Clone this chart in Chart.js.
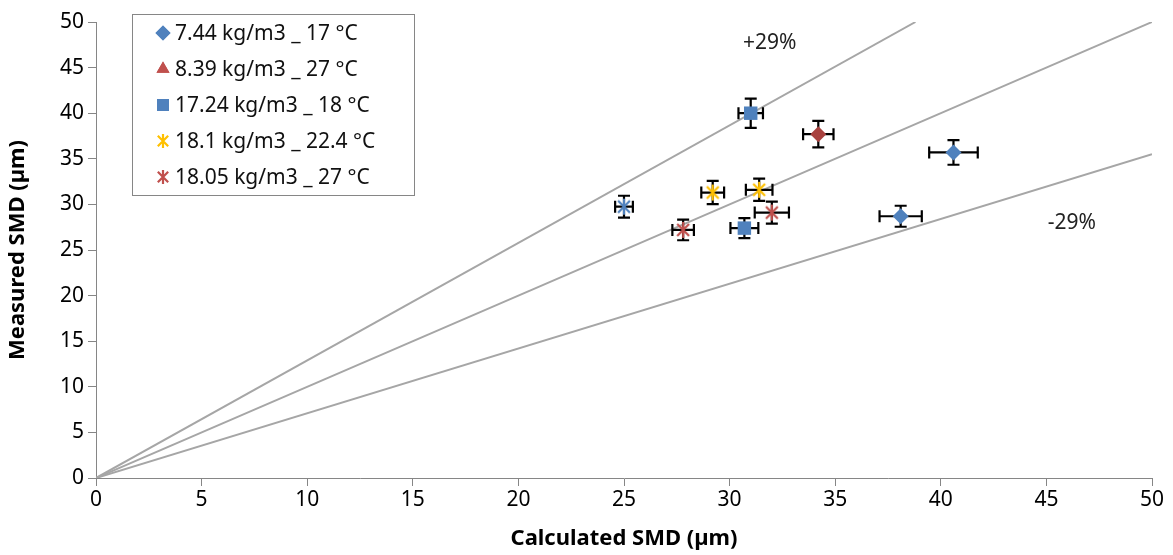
<!DOCTYPE html>
<html>
<head>
<meta charset="utf-8">
<script src="https://cdn.jsdelivr.net/npm/chart.js@4.4.1/dist/chart.umd.min.js"></script>
<style>
  html, body { margin: 0; padding: 0; background: #fff; }
  #wrap { width: 1173px; height: 555px; }
</style>
</head>
<body>
<div id="wrap"><canvas id="smdChart" width="1173" height="555"></canvas></div>
<script>
// Series labels (legend)
const seriesLabels = [
    '7.44 kg/m3 _ 17 °C',
    '8.39 kg/m3 _ 27 °C',
    '17.24 kg/m3 _ 18 °C',
    '18.1 kg/m3 _ 22.4 °C',
    '18.05 kg/m3 _ 27 °C'
];

// Calculated (x) / measured (y) SMD in µm, with error half-widths
const calcA = [40.6, 38.1], measA = [35.7, 28.7], xErrA = [1.15, 1.0], yErrA = [1.35, 1.15];
const calcB = [34.2], measB = [37.7], xErrB = [0.72], yErrB = [1.45];
const calcC = [31.0, 30.7], measC = [40.0, 27.4], xErrC = [0.58, 0.66], yErrC = [1.6, 1.1];
const calcD = [29.2, 31.4], measD = [31.3, 31.6], xErrD = [0.54, 0.63], yErrD = [1.28, 1.22];
const calcE = [27.8, 32.0], measE = [27.2, 29.1], xErrE = [0.51, 0.81], yErrE = [1.13, 1.2];
const calcF = [25.0], measF = [29.75], xErrF = [0.42], yErrF = [1.2];

// +29% / 1:1 / -29% reference lines, from origin to these end points
const lineEndX = [38.8, 50, 50];
const lineEndY = [50, 50, 35.5];
const lineLabels = ['+29%', '', '-29%'];
const lineLabelX = [31.9, 0, 46.2];
const lineLabelY = [47.7, 0, 28.0];

const axisTicks = [0, 5, 10, 15, 20, 25, 30, 35, 40, 45, 50];

const FONT = "'Noto Sans', 'Open Sans', sans-serif";

function asterisk(color, size) {
    const c = document.createElement('canvas');
    c.width = c.height = size;
    const g = c.getContext('2d');
    const m = size / 2, r = size / 2 - 1, d = r * 0.74;
    g.strokeStyle = color;
    g.lineWidth = 2.2;
    g.beginPath();
    g.moveTo(m, m - r); g.lineTo(m, m + r);
    g.moveTo(m - d, m - d); g.lineTo(m + d, m + d);
    g.moveTo(m + d, m - d); g.lineTo(m - d, m + d);
    g.stroke();
    return c;
}

function pts(xs, ys) {
    return xs.map((x, i) => ({ x: x, y: ys[i] }));
}

const BLUE = '#4F81BD', RED = '#C0504D', DARKRED = '#A8423F', YELLOW = '#FFC000';

const datasets = [
    { label: seriesLabels[0], data: pts(calcA, measA), xErr: xErrA, yErr: yErrA,
      pointStyle: 'rectRot', pointRadius: 8, backgroundColor: BLUE, borderColor: BLUE, borderWidth: 0,
      legendStyle: 'rectRot', legendColor: BLUE },
    { label: seriesLabels[1], data: pts(calcB, measB), xErr: xErrB, yErr: yErrB,
      pointStyle: 'rectRot', pointRadius: 8, backgroundColor: DARKRED, borderColor: DARKRED, borderWidth: 0,
      legendStyle: 'triangle', legendColor: RED },
    { label: seriesLabels[2], data: pts(calcC, measC), xErr: xErrC, yErr: yErrC,
      pointStyle: 'rect', pointRadius: 9.5, backgroundColor: BLUE, borderColor: BLUE, borderWidth: 0,
      legendStyle: 'rect', legendColor: BLUE },
    { label: seriesLabels[3], data: pts(calcD, measD), xErr: xErrD, yErr: yErrD,
      pointStyle: asterisk(YELLOW, 18), pointRadius: 9, backgroundColor: YELLOW, borderColor: YELLOW,
      legendStyle: asterisk(YELLOW, 16), legendColor: YELLOW },
    { label: seriesLabels[4], data: pts(calcE, measE), xErr: xErrE, yErr: yErrE,
      pointStyle: asterisk(RED, 18), pointRadius: 9, backgroundColor: RED, borderColor: RED,
      legendStyle: asterisk(RED, 16), legendColor: RED },
    { label: '', data: pts(calcF, measF), xErr: xErrF, yErr: yErrF,
      pointStyle: asterisk(BLUE, 18), pointRadius: 9, backgroundColor: BLUE, borderColor: BLUE }
];

lineEndX.forEach((ex, i) => {
    datasets.push({
        type: 'line', label: '', refLine: true,
        data: [{ x: 0, y: 0 }, { x: ex, y: lineEndY[i] }],
        borderColor: '#A6A6A6', borderWidth: 2, pointRadius: 0, fill: false, order: 10
    });
});

const errorBars = {
    id: 'errorBars',
    beforeDatasetDraw(chart, args) {
        const ds = chart.data.datasets[args.index];
        if (!ds.xErr) return;
        const xs = chart.scales.x, ys = chart.scales.y, ctx = chart.ctx;
        const cap = 6;
        ctx.save();
        ctx.strokeStyle = '#000';
        ctx.lineWidth = 2.2;
        ds.data.forEach((p, i) => {
            const px = xs.getPixelForValue(p.x), py = ys.getPixelForValue(p.y);
            const x0 = xs.getPixelForValue(p.x - ds.xErr[i]), x1 = xs.getPixelForValue(p.x + ds.xErr[i]);
            const y0 = ys.getPixelForValue(p.y - ds.yErr[i]), y1 = ys.getPixelForValue(p.y + ds.yErr[i]);
            ctx.beginPath();
            ctx.moveTo(x0, py); ctx.lineTo(x1, py);
            ctx.moveTo(x0, py - cap); ctx.lineTo(x0, py + cap);
            ctx.moveTo(x1, py - cap); ctx.lineTo(x1, py + cap);
            ctx.moveTo(px, y0); ctx.lineTo(px, y1);
            ctx.moveTo(px - cap, y0); ctx.lineTo(px + cap, y0);
            ctx.moveTo(px - cap, y1); ctx.lineTo(px + cap, y1);
            ctx.stroke();
        });
        ctx.restore();
    }
};

const lineText = {
    id: 'lineText',
    afterDatasetsDraw(chart) {
        const ctx = chart.ctx, xs = chart.scales.x, ys = chart.scales.y;
        ctx.save();
        ctx.font = '21px ' + FONT;
        ctx.fillStyle = '#222';
        ctx.textAlign = 'center';
        ctx.textBaseline = 'middle';
        lineLabels.forEach((t, i) => {
            if (!t) return;
            ctx.fillText(t, xs.getPixelForValue(lineLabelX[i]), ys.getPixelForValue(lineLabelY[i]));
        });
        ctx.restore();
    }
};

const boxLegend = {
    id: 'boxLegend',
    afterDraw(chart) {
        const ctx = chart.ctx;
        const bx = 132, by = 14, bw = 282, bh = 181;
        ctx.save();
        ctx.fillStyle = '#fff';
        ctx.fillRect(bx, by, bw, bh);
        ctx.strokeStyle = '#868686';
        ctx.lineWidth = 1;
        ctx.strokeRect(bx + 0.5, by + 0.5, bw, bh);
        ctx.font = '21px ' + FONT;
        ctx.textBaseline = 'middle';
        ctx.textAlign = 'left';
        let row = 0;
        chart.data.datasets.forEach(ds => {
            if (!ds.legendStyle) return;
            const cy = by + 19 + row * 36, cx = bx + 31;
            ctx.fillStyle = ds.legendColor;
            ctx.strokeStyle = ds.legendColor;
            const st = ds.legendStyle;
            if (typeof st !== 'string') {
                ctx.drawImage(st, cx - st.width / 2, cy - st.height / 2);
            } else {
                const r = st === 'rect' ? 8.5 : 7.5;
                Chart.helpers.drawPoint(ctx, { pointStyle: st, radius: r, borderWidth: 0, rotation: 0 }, cx, cy);
                ctx.fill();
            }
            ctx.fillStyle = '#111';
            ctx.fillText(ds.label, bx + 43, cy + 1);
            row++;
        });
        ctx.restore();
    }
};

const axisColor = '#868686';

function axisOptions(title, isY) {
    return {
        type: 'linear',
        min: 0,
        max: 50,
        afterBuildTicks(scale) { scale.ticks = axisTicks.map(v => ({ value: v })); },
        ticks: { color: '#000', font: { family: FONT, size: 21 }, padding: isY ? 4 : 1, maxRotation: 0 },
        grid: { drawOnChartArea: false, color: axisColor, tickLength: 8, lineWidth: 1 },
        border: { color: axisColor, width: 1 },
        title: {
            display: true, text: title, color: '#000',
            font: { family: FONT, size: 22, weight: 'bold' },
            padding: isY ? { top: 5, bottom: 0 } : { top: 0, bottom: 3 }
        },
        afterFit(scale) {
            if (isY) scale.width = 96; else scale.height = 77;
        }
    };
}

new Chart(document.getElementById('smdChart'), {
    type: 'scatter',
    data: { datasets: datasets },
    options: {
        responsive: false,
        animation: false,
        devicePixelRatio: 1,
        layout: { padding: { top: 22, right: 21, left: 0, bottom: 0 } },
        plugins: { legend: { display: false }, tooltip: { enabled: false } },
        scales: {
            x: axisOptions('Calculated SMD (µm)', false),
            y: axisOptions('Measured SMD (µm)', true)
        }
    },
    plugins: [errorBars, lineText, boxLegend]
});
</script>
</body>
</html>
